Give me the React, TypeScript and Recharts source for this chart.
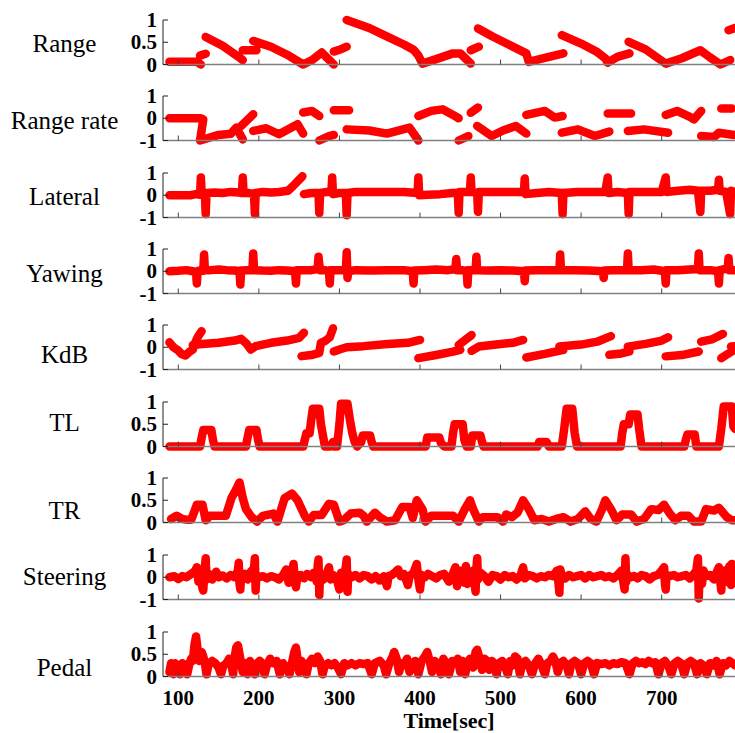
import React from "react";
import { LineChart, Line, XAxis, YAxis } from "recharts";

type Pt = [number, number];

const timeTicks = [100, 200, 300, 400, 500, 600, 700];
const unitTicks = [0, 0.5, 1];
const signedTicks = [-1, 0, 1];

// each inner array is one unbroken run of samples [time, value]
const rangeSegs: Pt[][] = [
  [[89, 0.06], [123, 0.06], [128, 0.0]],
  [[127, 0.2], [134, 0.24]],
  [[134, 0.62], [155, 0.42], [175, 0.17], [180, 0.1]],
  [[180, 0.32], [197, 0.32]],
  [[193, 0.53], [215, 0.4], [235, 0.22], [255, 0.0], [266, 0.1], [278, 0.27], [293, 0.0]],
  [[293, 0.29], [300, 0.33], [309, 0.4]],
  [[309, 1.0], [337, 0.82], [360, 0.62], [380, 0.45], [392, 0.33], [398, 0.2], [403, 0.02], [420, 0.12], [441, 0.25], [450, 0.25], [463, 0.02]],
  [[463, 0.32], [473, 0.4]],
  [[472, 0.81], [490, 0.63], [510, 0.45], [532, 0.25], [535, 0.06], [555, 0.15], [578, 0.25]],
  [[576, 0.66], [600, 0.47], [620, 0.28], [630, 0.14], [633, 0.04], [645, 0.17], [660, 0.25]],
  [[659, 0.51], [680, 0.34], [705, 0.02], [725, 0.14], [748, 0.32], [760, 0.16], [773, 0.0], [785, 0.1]],
  [[783, 0.77], [791, 0.82]],
];

const rangeRateSegs: Pt[][] = [
  [[89, 0], [128, 0], [131, -0.05], [127, -1.0], [150, -0.75], [165, -0.7], [172, -0.42], [180, -0.95]],
  [[178, -0.35], [193, 0.18]],
  [[193, -0.57], [209, -0.45], [225, -0.72], [248, -0.27], [255, -0.69]],
  [[255, 0.26], [266, 0.33], [275, 0.1]],
  [[275, -1.0], [287, -0.8], [293, -0.75]],
  [[293, 0.36], [312, 0.36]],
  [[309, -0.5], [337, -0.55], [359, -0.69], [387, -0.42], [398, -1.0]],
  [[398, 0.1], [414, 0.33], [428, 0.4], [441, 0.15], [448, 0.0]],
  [[448, -1.0], [460, -0.8]],
  [[463, 0.25], [472, 0.48]],
  [[471, -0.35], [489, -0.8], [503, -0.55], [519, -0.35], [532, -0.69]],
  [[532, 0.15], [555, 0.33], [567, 0.03], [577, 0.1]],
  [[576, -0.65], [596, -0.5], [617, -0.8], [635, -0.6]],
  [[633, 0.21], [662, 0.21]],
  [[658, -0.57], [678, -0.5], [708, -0.65]],
  [[705, 0.15], [719, 0.33], [735, 0.06], [740, -0.05], [749, 0.33]],
  [[749, -0.8], [765, -0.84], [771, -0.65], [790, -0.75]],
  [[774, 0.44], [787, 0.44]],
];

const lateralSegs: Pt[][] = [
  [[89, 0], [100, 0], [115, 0], [122, 0.05], [127, 0.02], [128, 0.8], [129, 0.05], [133, 0.05], [134, -0.85], [135, 0.1],
   [145, 0.12], [155, 0.1], [165, 0.15], [175, 0.12], [179, 0.1], [180, 0.8], [181, 0.1], [188, 0.1], [194, 0.05], [195, -0.85],
   [196, 0.1], [205, 0.15], [215, 0.12], [225, 0.15], [236, 0.2], [242, 0.4], [250, 0.7], [254, 0.85]],
  [[256, 0.05], [265, 0.1], [274, 0.1], [275, -0.8], [276, 0.1], [285, 0.15], [290, 0.15], [291, 0.8], [292, 0.05], [300, 0.1],
   [308, 0.1], [309, -0.9], [310, 0.1], [320, 0.15], [340, 0.15], [360, 0.15], [380, 0.15], [397, 0.1], [398, 0.8], [399, 0.0],
   [410, 0.02], [425, 0.05], [440, 0.1], [447, 0.1], [448, -0.8], [449, 0.15], [455, 0.15], [462, 0.15], [463, 0.8], [464, 0.15],
   [471, 0.1], [472, -0.75], [473, 0.15], [485, 0.15], [500, 0.15], [515, 0.15], [529, 0.15], [530, 0.75], [531, 0.05], [545, 0.1],
   [560, 0.15], [576, 0.1], [577, -0.85], [578, 0.1], [595, 0.15], [615, 0.15], [630, 0.15], [633, 0.8], [634, 0.1], [645, 0.15],
   [658, 0.1], [659, -0.85], [660, 0.15], [680, 0.15], [700, 0.15], [705, 0.8], [706, 0.15], [720, 0.2], [735, 0.25], [745, 0.2],
   [748, -0.75], [749, 0.2], [760, 0.2], [770, 0.25], [771, 0.7], [772, 0.2], [780, 0.15], [785, -0.85], [786, 0.2], [791, 0.15]],
];

const yawingSegs: Pt[][] = [
  [[89, 0], [100, 0.02], [110, 0.05], [118, 0.0], [122, -0.03], [123, -0.55], [124, 0.0], [128, 0.05], [131, 0.02], [132, 0.75],
   [133, 0.05], [140, 0.05], [150, 0.08], [160, 0.05], [170, 0.03], [176, 0.0], [177, -0.6], [178, 0.03], [185, 0.05], [192, 0.05],
   [193, 0.8], [194, 0.05], [205, 0.03], [215, 0.02], [225, 0.05], [235, 0.03], [245, 0.0], [246, -0.55], [247, 0.05], [255, 0.05],
   [265, 0.05], [273, 0.1], [274, 0.65], [275, 0.3], [276, 0.05], [282, 0.05], [287, 0.0], [288, -0.55], [289, 0.05], [298, 0.05],
   [308, 0.05], [309, 0.85], [310, -0.3], [311, 0.0], [320, 0.05], [340, 0.03], [360, 0.05], [380, 0.05], [391, 0.0], [392, -0.55],
   [393, 0.03], [405, 0.05], [420, 0.08], [435, 0.05], [444, 0.1], [445, 0.55], [446, 0.05], [452, 0.05], [458, 0.0], [459, -0.6],
   [460, 0.05], [469, 0.05], [470, 0.65], [471, 0.05], [485, 0.03], [500, 0.05], [515, 0.03], [529, 0.0], [530, -0.45], [531, 0.03],
   [545, 0.05], [560, 0.05], [573, 0.05], [574, 0.75], [575, 0.05], [590, 0.05], [610, 0.03], [627, 0.0], [628, -0.3], [629, 0.03],
   [640, 0.05], [650, 0.05], [657, 0.05], [658, 0.8], [659, 0.05], [675, 0.05], [690, 0.08], [704, 0.0], [705, -0.55], [706, 0.05],
   [720, 0.05], [735, 0.08], [745, 0.1], [746, 0.8], [747, 0.05], [760, 0.05], [770, 0.0], [771, -0.55], [772, 0.05], [778, 0.1],
   [782, 0.1], [783, 0.6], [784, 0.05], [791, 0.05]],
];

const kdbSegs: Pt[][] = [
  [[89, 0.22], [94, 0.0], [100, -0.15], [104, -0.3], [109, -0.37], [114, -0.2], [118, -0.1], [121, 0.2], [124, 0.45], [129, 0.72]],
  [[118, 0.1], [130, 0.15], [150, 0.2], [170, 0.3], [178, 0.38], [185, 0.15], [190, -0.1], [196, 0.05], [215, 0.2], [235, 0.3], [250, 0.42], [256, 0.65]],
  [[253, -0.4], [265, -0.35], [275, -0.25], [277, 0.2], [283, 0.3], [288, 0.45], [292, 0.85]],
  [[293, -0.19], [300, -0.1], [309, 0.0], [330, 0.05], [360, 0.15], [385, 0.2], [400, 0.33]],
  [[398, -0.49], [420, -0.35], [441, -0.2], [450, -0.12]],
  [[448, 0.1], [455, 0.3], [464, 0.55]],
  [[464, -0.16], [473, 0.03], [500, 0.15], [515, 0.2], [528, 0.33]],
  [[532, -0.46], [555, -0.3], [578, -0.12]],
  [[573, 0.03], [600, 0.12], [620, 0.25], [637, 0.5]],
  [[635, -0.34], [650, -0.28], [660, -0.19]],
  [[658, 0.03], [680, 0.15], [700, 0.3], [708, 0.45]],
  [[705, -0.41], [725, -0.35], [746, -0.19]],
  [[749, 0.25], [762, 0.35], [776, 0.6]],
  [[774, -0.49], [780, -0.35], [787, -0.19]],
  [[786, 0.03], [791, 0.05]],
];

const tlSegs: Pt[][] = [
  [[89, 0], [127, 0], [129, 0.2], [131, 0.37], [141, 0.37], [143, 0.15], [145, 0], [184, 0], [186, 0.2], [188, 0.37], [197, 0.37],
   [199, 0.15], [201, 0], [255, 0], [257, 0.15], [259, 0.3], [263, 0.3], [265, 0.6], [267, 0.85], [275, 0.85], [277, 0.5], [279, 0.3],
   [282, 0], [289, 0], [292, 0.1], [294, 0], [297, 0], [300, 0.5], [302, 0.96], [310, 0.96], [313, 0.6], [316, 0.3], [319, 0.1],
   [322, 0], [327, 0.1], [329, 0.25], [338, 0.25], [340, 0.1], [342, 0], [407, 0], [409, 0.2], [424, 0.2], [426, 0.08], [430, 0],
   [439, 0], [441, 0.3], [443, 0.5], [453, 0.5], [455, 0.15], [458, 0], [463, 0], [465, 0.25], [475, 0.25], [477, 0.1], [479, 0],
   [546, 0], [548, 0.1], [557, 0.1], [560, 0], [576, 0], [579, 0.4], [582, 0.85], [589, 0.85], [592, 0.3], [595, 0], [649, 0],
   [651, 0.3], [653, 0.5], [659, 0.5], [661, 0.72], [670, 0.72], [672, 0.4], [675, 0], [728, 0], [730, 0.15], [732, 0.27],
   [741, 0.27], [743, 0], [771, 0], [774, 0.4], [777, 0.9], [787, 0.9], [789, 0.45], [791, 0.4]],
];

const trSegs: Pt[][] = [
  [[91, 0.08], [98, 0.15], [105, 0.08], [111, 0.06], [116, 0.06], [120, 0.25], [123, 0.4], [130, 0.4], [134, 0.05], [139, 0.15],
   [159, 0.15], [166, 0.55], [172, 0.75], [176, 0.9], [180, 0.55], [184, 0.3], [191, 0.12], [198, 0.02], [205, 0.15], [218, 0.2],
   [223, 0.02], [232, 0.55], [241, 0.65], [248, 0.5], [257, 0.15], [262, 0.02], [268, 0.17], [278, 0.17], [287, 0.42], [293, 0.4],
   [300, 0.02], [305, 0.05], [314, 0.2], [325, 0.22], [330, 0.15], [334, 0.02], [344, 0.22], [350, 0.12], [359, 0.02], [369, 0.05],
   [378, 0.35], [387, 0.35], [391, 0.1], [396, 0.5], [403, 0.3], [407, 0.02], [414, 0.15], [441, 0.15], [448, 0.02], [455, 0.28],
   [462, 0.5], [466, 0.3], [473, 0.02], [478, 0.12], [496, 0.12], [503, 0.02], [507, 0.18], [514, 0.12], [521, 0.22], [528, 0.5],
   [535, 0.3], [542, 0.05], [551, 0.08], [560, 0.02], [569, 0.08], [578, 0.12], [587, 0.02], [596, 0.08], [605, 0.25], [612, 0.08],
   [619, 0.02], [626, 0.3], [630, 0.5], [637, 0.3], [644, 0.05], [651, 0.18], [662, 0.18], [669, 0.02], [678, 0.08], [687, 0.3],
   [696, 0.28], [703, 0.4], [710, 0.2], [717, 0.05], [724, 0.15], [733, 0.15], [740, 0.02], [749, 0.02], [755, 0.3], [765, 0.27],
   [771, 0.33], [781, 0.12], [787, 0.05], [791, 0.05]],
];

const steeringSegs: Pt[][] = [
  [[89, 0], [95, 0.05], [100, -0.08], [105, 0.05], [110, 0.0], [114, 0.1], [118, 0.2], [121, 0.3], [123, 0.45], [125, -0.2],
   [127, 0.25], [130, -0.5], [131, -0.6], [132, 0.1], [134, 0.85], [135, -0.1], [138, 0.15], [142, -0.1], [145, 0.1], [147, 0.25],
   [150, 0.0], [155, 0.08], [160, -0.05], [165, 0.1], [170, 0.0], [174, 0.3], [175, 0.65], [176, -0.3], [177, -0.55], [178, 0.1],
   [182, 0.15], [186, -0.1], [190, 0.25], [194, 0.4], [195, 0.85], [196, -0.6], [197, 0.1], [200, 0.0], [205, 0.05], [210, -0.05],
   [215, 0.05], [220, 0.0], [225, -0.1], [230, 0.1], [234, 0.35], [237, -0.25], [240, 0.1], [243, 0.6], [245, -0.2], [246, -0.45],
   [248, 0.05], [252, 0.1], [256, -0.05], [260, 0.15], [265, 0.0], [268, 0.2], [272, -0.2], [273, 0.5], [274, 0.8], [275, -0.8],
   [276, 0.15], [280, -0.1], [284, 0.15], [287, 0.45], [289, -0.1], [292, 0.1], [296, 0.0], [300, -0.55], [302, 0.2], [306, -0.1],
   [309, 0.8], [310, -0.65], [311, 0.15], [315, 0.0], [320, 0.1], [325, -0.05], [330, 0.1], [335, 0.05], [340, -0.1], [345, 0.05],
   [350, -0.15], [355, 0.05], [359, -0.4], [361, 0.05], [365, 0.1], [370, 0.25], [373, 0.35], [376, 0.05], [380, 0.15], [385, -0.35],
   [387, 0.05], [392, 0.2], [396, 0.6], [398, -0.1], [400, -0.55], [402, 0.1], [406, 0.0], [410, 0.15], [415, 0.05], [420, -0.05],
   [425, 0.1], [430, 0.15], [436, -0.2], [440, 0.1], [444, 0.45], [445, 0.1], [446, -0.4], [448, 0.25], [452, 0.3], [455, -0.25],
   [457, 0.5], [459, -0.3], [462, 0.05], [466, 0.3], [469, -0.65], [470, 0.4], [471, 0.85], [472, -0.1], [475, 0.2], [480, 0.05],
   [485, -0.2], [490, 0.1], [495, 0.05], [500, -0.1], [505, 0.1], [510, 0.0], [515, 0.05], [520, -0.1], [525, 0.1], [528, 0.45],
   [530, -0.05], [535, 0.1], [540, 0.05], [545, -0.05], [550, 0.05], [555, 0.0], [560, 0.1], [565, 0.05], [570, 0.3], [572, -0.3],
   [573, -0.7], [574, 0.35], [576, 0.1], [580, -0.05], [585, 0.1], [590, 0.0], [595, 0.05], [600, 0.1], [605, -0.05], [610, 0.1],
   [615, 0.0], [620, 0.05], [625, 0.1], [630, 0.0], [635, 0.05], [640, -0.05], [645, 0.1], [650, 0.3], [654, -0.55], [655, 0.85],
   [656, -0.2], [658, 0.1], [662, 0.0], [666, 0.05], [670, -0.05], [675, 0.1], [680, 0.05], [685, -0.1], [690, 0.05], [695, 0.1],
   [700, 0.3], [703, 0.45], [704, -0.3], [705, -0.55], [706, 0.1], [710, 0.05], [715, 0.1], [720, 0.0], [725, 0.05], [730, 0.1],
   [735, -0.05], [740, 0.15], [743, 0.3], [745, 0.85], [746, -0.95], [747, 0.1], [750, -0.3], [752, 0.3], [755, 0.05], [760, 0.1],
   [765, -0.1], [768, 0.2], [771, 0.45], [773, -0.3], [774, -0.6], [775, 0.1], [778, 0.3], [781, -0.2], [784, 0.5], [786, -0.35],
   [787, 0.6], [789, -0.2], [791, 0.2]],
];

const pedalSegs: Pt[][] = [
  [[89, 0.1], [91, 0.3], [94, 0.05], [96, 0.3], [99, 0.2], [102, 0.05], [105, 0.3], [108, 0.25], [111, 0.05], [114, 0.3],
   [116, 0.4], [118, 0.35], [120, 0.7], [122, 0.9], [124, 0.6], [126, 0.35], [129, 0.55], [131, 0.45], [133, 0.3], [135, 0.05],
   [138, 0.3], [142, 0.35], [146, 0.3], [150, 0.2], [153, 0.05], [156, 0.25], [160, 0.3], [163, 0.4], [166, 0.25], [168, 0.05],
   [170, 0.45], [172, 0.65], [174, 0.7], [176, 0.5], [178, 0.3], [180, 0.1], [183, 0.3], [186, 0.05], [189, 0.35], [192, 0.25],
   [195, 0.05], [198, 0.3], [201, 0.35], [204, 0.3], [207, 0.05], [210, 0.25], [214, 0.4], [218, 0.3], [222, 0.35], [226, 0.05],
   [230, 0.3], [234, 0.2], [238, 0.05], [241, 0.3], [244, 0.55], [246, 0.65], [248, 0.4], [250, 0.1], [253, 0.35], [256, 0.2],
   [259, 0.05], [262, 0.3], [266, 0.4], [270, 0.3], [273, 0.45], [276, 0.35], [279, 0.05], [282, 0.25], [286, 0.3], [290, 0.25],
   [294, 0.3], [298, 0.2], [302, 0.05], [306, 0.3], [310, 0.25], [315, 0.3], [320, 0.25], [325, 0.3], [330, 0.28], [335, 0.3],
   [340, 0.05], [344, 0.3], [350, 0.35], [355, 0.25], [358, 0.05], [362, 0.3], [366, 0.45], [368, 0.55], [371, 0.4], [374, 0.1],
   [377, 0.3], [380, 0.25], [384, 0.4], [387, 0.1], [390, 0.3], [394, 0.35], [398, 0.05], [402, 0.35], [406, 0.45], [409, 0.55],
   [412, 0.35], [415, 0.1], [418, 0.35], [422, 0.3], [426, 0.05], [429, 0.4], [433, 0.25], [436, 0.05], [440, 0.35], [444, 0.3],
   [447, 0.4], [450, 0.1], [453, 0.35], [456, 0.05], [459, 0.3], [462, 0.4], [466, 0.2], [469, 0.55], [471, 0.6], [474, 0.4],
   [477, 0.15], [480, 0.4], [483, 0.35], [486, 0.15], [489, 0.35], [492, 0.3], [495, 0.05], [498, 0.3], [502, 0.35], [506, 0.2],
   [509, 0.05], [512, 0.35], [515, 0.25], [518, 0.45], [521, 0.4], [524, 0.05], [527, 0.3], [531, 0.35], [535, 0.25], [539, 0.05],
   [543, 0.3], [547, 0.4], [551, 0.25], [555, 0.05], [558, 0.3], [562, 0.35], [565, 0.45], [568, 0.35], [571, 0.1], [574, 0.3],
   [578, 0.35], [582, 0.25], [585, 0.05], [588, 0.3], [592, 0.35], [596, 0.3], [600, 0.05], [604, 0.3], [608, 0.35], [612, 0.3],
   [616, 0.05], [620, 0.3], [625, 0.28], [630, 0.3], [635, 0.25], [640, 0.3], [645, 0.28], [650, 0.32], [655, 0.3], [660, 0.05],
   [664, 0.3], [668, 0.35], [672, 0.3], [676, 0.32], [680, 0.28], [684, 0.35], [688, 0.3], [692, 0.32], [696, 0.05], [700, 0.3],
   [704, 0.35], [708, 0.25], [712, 0.05], [716, 0.3], [720, 0.35], [724, 0.3], [728, 0.05], [732, 0.3], [736, 0.35], [740, 0.3],
   [744, 0.05], [748, 0.3], [752, 0.25], [756, 0.05], [760, 0.3], [764, 0.25], [768, 0.35], [772, 0.05], [776, 0.3], [780, 0.25],
   [784, 0.35], [788, 0.3], [791, 0.25]],
];

const panelNames = ["Range", "Range rate", "Lateral", "Yawing", "KdB", "TL", "TR", "Steering", "Pedal"];

const FONT = '"Liberation Serif", "Times New Roman", Times, "DejaVu Serif", serif';
const RED = "#ff0000";
const PLOT_H = 44.5;
const TOP_PAD = 12;

const panels = [
  { segs: rangeSegs, ticks: unitTicks, top: 20, labelY: 52 },
  { segs: rangeRateSegs, ticks: signedTicks, top: 95.5, labelY: 128.5 },
  { segs: lateralSegs, ticks: signedTicks, top: 173, labelY: 205 },
  { segs: yawingSegs, ticks: signedTicks, top: 249.3, labelY: 281.5 },
  { segs: kdbSegs, ticks: signedTicks, top: 325, labelY: 363 },
  { segs: tlSegs, ticks: unitTicks, top: 402.3, labelY: 430.5 },
  { segs: trSegs, ticks: unitTicks, top: 478, labelY: 519 },
  { segs: steeringSegs, ticks: signedTicks, top: 555, labelY: 585 },
  { segs: pedalSegs, ticks: unitTicks, top: 631.7, labelY: 676 },
];

// flatten runs into one row list, with a null row between runs so the line breaks
function toRows(segs: Pt[][]) {
  const rows: { t: number; v: number | null }[] = [];
  segs.forEach((seg, i) => {
    seg.forEach(([t, v]) => rows.push({ t, v }));
    if (i < segs.length - 1) rows.push({ t: seg[seg.length - 1][0], v: null });
  });
  return rows;
}

const labelStyle = { fontFamily: FONT };

const YTick = (props: any) => {
  const { x, y, payload } = props;
  return (
    <g>
      <line x1={x + 6} x2={x + 11} y1={y} y2={y} stroke="#222" strokeWidth={1} />
      <text x={x} y={y + 7} textAnchor="end" style={labelStyle} fontWeight="bold" fontSize={21} fill="#000">
        {String(payload.value)}
      </text>
    </g>
  );
};

const makeXTick = (showLabel: boolean) => (props: any) => {
  const { x, y, payload } = props;
  return (
    <g>
      <line x1={x} x2={x} y1={y} y2={y - 5} stroke="#444" strokeWidth={1} />
      {showLabel && (
        <text x={x} y={y + 28} textAnchor="middle" style={labelStyle} fontWeight="bold" fontSize={21} fill="#000">
          {payload.value}
        </text>
      )}
    </g>
  );
};

const Panel = ({ idx }: { idx: number }) => {
  const p = panels[idx];
  const last = idx === panels.length - 1;
  const xh = last ? 40 : 16;
  const height = TOP_PAD + PLOT_H + xh;
  const domain = p.ticks === unitTicks ? [0, 1] : [-1, 1];
  return (
    <div style={{ position: "absolute", left: 0, top: p.top - TOP_PAD }}>
      <LineChart width={735} height={height} data={toRows(p.segs)} margin={{ top: TOP_PAD, right: 0, bottom: 0, left: 0 }}>
        <XAxis
          type="number"
          dataKey="t"
          domain={[81, 791]}
          ticks={timeTicks}
          interval={0}
          height={xh}
          axisLine={{ stroke: "#808080", strokeWidth: 1.5 }}
          tickLine={false}
          tickSize={0}
          tickMargin={0}
          tick={makeXTick(last)}
        />
        <YAxis
          type="number"
          domain={domain}
          ticks={p.ticks}
          interval={0}
          width={163}
          axisLine={{ stroke: "#222", strokeWidth: 1 }}
          tickLine={false}
          tickSize={0}
          tickMargin={6}
          tick={YTick}
        />
        <Line
          type="linear"
          dataKey="v"
          stroke={RED}
          strokeWidth={8.5}
          strokeLinecap="round"
          strokeLinejoin="round"
          dot={false}
          activeDot={false}
          isAnimationActive={false}
        />
      </LineChart>
    </div>
  );
};

export default function App() {
  return (
    <div style={{ position: "absolute", left: 0, top: 0, width: 735, height: 733, background: "#fff", overflow: "hidden" }}>
      <svg width={735} height={733} style={{ position: "absolute", left: 0, top: 0 }}>
        {panelNames.map((name, i) => (
          <text key={name} x={64.5} y={panels[i].labelY} textAnchor="middle" style={labelStyle} fontSize={25} fill="#000">
            {name}
          </text>
        ))}
        <text x={449} y={728} textAnchor="middle" style={labelStyle} fontWeight="bold" fontSize={22} fill="#000">
          Time[sec]
        </text>
      </svg>
      {panels.map((_, i) => (
        <Panel key={i} idx={i} />
      ))}
    </div>
  );
}
